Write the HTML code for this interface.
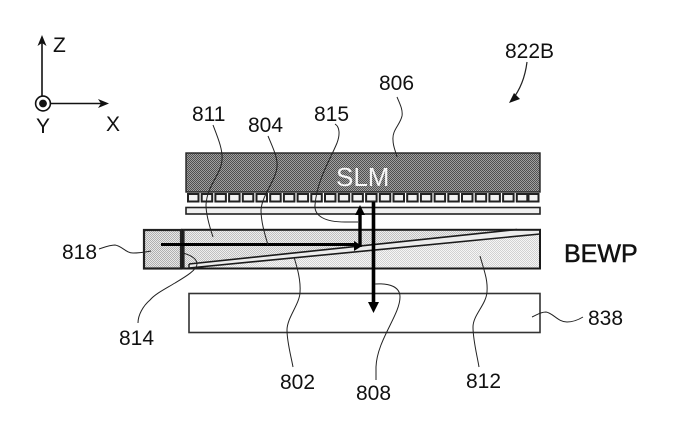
<!DOCTYPE html>
<html><head><meta charset="utf-8">
<style>
html,body{margin:0;padding:0;background:#fff;width:694px;height:441px;overflow:hidden}
svg{display:block}
text{font-family:"Liberation Sans",sans-serif;font-size:21px;fill:#111}
</style></head><body>
<svg width="694" height="441" viewBox="0 0 694 441" xmlns="http://www.w3.org/2000/svg">
<defs>
<pattern id="dark" width="2" height="2" patternUnits="userSpaceOnUse"><rect width="2" height="2" fill="#a0a0a0"/><rect width="1" height="1" fill="#505050"/><rect x="1" y="1" width="1" height="1" fill="#505050"/></pattern>
<pattern id="mid" width="2" height="2" patternUnits="userSpaceOnUse"><rect width="2" height="2" fill="#eee"/><rect width="1" height="1" fill="#c0c0c0"/><rect x="1" y="1" width="1" height="1" fill="#c0c0c0"/></pattern>
<pattern id="light" width="2" height="2" patternUnits="userSpaceOnUse"><rect width="2" height="2" fill="#f6f6f6"/><rect width="1" height="1" fill="#d2d2d2"/><rect x="1" y="1" width="1" height="1" fill="#d2d2d2"/></pattern>
<pattern id="box" width="2" height="2" patternUnits="userSpaceOnUse"><rect width="2" height="2" fill="#e8e8e8"/><rect width="1" height="1" fill="#b0b0b0"/><rect x="1" y="1" width="1" height="1" fill="#b0b0b0"/></pattern>
</defs>

<!-- axes -->
<g stroke="#111" fill="none">
<line x1="42" y1="38" x2="42" y2="96" stroke-width="1.6"/>
<line x1="51" y1="103.5" x2="104" y2="103.5" stroke-width="1.6"/>
<circle cx="43" cy="103.5" r="7.4" stroke-width="1.6" fill="#fff"/>
</g>
<circle cx="43" cy="103.5" r="3.9" fill="#111"/>
<polygon points="42,35 37.5,46 42,43 46.5,46" fill="#111"/>
<polygon points="109,103.5 98,99 101,103.5 98,108" fill="#111"/>
<text x="53" y="52">Z</text>
<text x="106" y="131">X</text>
<text x="36" y="133">Y</text>

<!-- SLM -->
<rect x="186" y="153" width="354" height="39" fill="url(#dark)" stroke="#222" stroke-width="1.4"/>
<text x="336" y="186" style="font-size:26px;fill:#f6f6f6">SLM</text>

<!-- pixels -->
<g fill="#f2f2f2" stroke="#222" stroke-width="2">
<rect x="188" y="194" width="10.5" height="7.5"/><rect x="201.7" y="194" width="10.5" height="7.5"/><rect x="215.4" y="194" width="10.5" height="7.5"/><rect x="229.1" y="194" width="10.5" height="7.5"/><rect x="242.8" y="194" width="10.5" height="7.5"/><rect x="256.5" y="194" width="10.5" height="7.5"/><rect x="270.2" y="194" width="10.5" height="7.5"/><rect x="283.9" y="194" width="10.5" height="7.5"/><rect x="297.6" y="194" width="10.5" height="7.5"/><rect x="311.3" y="194" width="10.5" height="7.5"/><rect x="325" y="194" width="10.5" height="7.5"/><rect x="338.7" y="194" width="10.5" height="7.5"/><rect x="352.4" y="194" width="10.5" height="7.5"/><rect x="366.1" y="194" width="10.5" height="7.5"/><rect x="379.8" y="194" width="10.5" height="7.5"/><rect x="393.5" y="194" width="10.5" height="7.5"/><rect x="407.2" y="194" width="10.5" height="7.5"/><rect x="420.9" y="194" width="10.5" height="7.5"/><rect x="434.6" y="194" width="10.5" height="7.5"/><rect x="448.3" y="194" width="10.5" height="7.5"/><rect x="462" y="194" width="10.5" height="7.5"/><rect x="475.7" y="194" width="10.5" height="7.5"/><rect x="489.4" y="194" width="10.5" height="7.5"/><rect x="503.1" y="194" width="10.5" height="7.5"/><rect x="516.8" y="194" width="10.5" height="7.5"/><rect x="528.5" y="194" width="10" height="7.5"/>
</g>
<rect x="186" y="207.5" width="354" height="6.5" fill="#f0f0f0" stroke="#222" stroke-width="1.6"/>

<!-- BEWP -->
<rect x="182" y="229" width="358" height="40" fill="url(#mid)"/>
<polygon points="189,268 540,234 540,269 189,269" fill="url(#light)"/>
<polygon points="189,264 517,229 540,229 540,234 189,268" fill="#ececec"/>
<rect x="144" y="230" width="37" height="38.5" fill="url(#box)" stroke="#222" stroke-width="2.2"/>
<rect x="182" y="229.8" width="358" height="38.7" fill="none" stroke="#1a1a1a" stroke-width="2"/>
<line x1="181" y1="229" x2="181" y2="269" stroke="#222" stroke-width="1.8"/>
<line x1="183.8" y1="229" x2="183.8" y2="269" stroke="#222" stroke-width="1.6"/>
<line x1="189" y1="264" x2="517" y2="229.5" stroke="#1a1a1a" stroke-width="1.6"/>
<line x1="189" y1="268" x2="540" y2="234" stroke="#1a1a1a" stroke-width="1.6"/>
<line x1="189" y1="264" x2="189" y2="268" stroke="#1a1a1a" stroke-width="1.4"/>

<!-- bottom -->
<rect x="189" y="293.5" width="351" height="39" fill="#fff" stroke="#333" stroke-width="1.6"/>

<!-- rays -->
<line x1="161" y1="244.5" x2="356" y2="244.5" stroke="#000" stroke-width="3"/>
<polygon points="362,246 354,241 354,251" fill="#000"/>
<line x1="360" y1="247" x2="360" y2="212" stroke="#000" stroke-width="3.4"/>
<polygon points="360,205 355,215 365,215" fill="#000"/>
<line x1="373.5" y1="202" x2="373.5" y2="305" stroke="#000" stroke-width="3.6"/>
<polygon points="373.5,313 368,302 379,302" fill="#000"/>

<!-- leaders -->
<g fill="none" stroke="#222" stroke-width="1">
<path d="M213,125 C218,138 223,150 222,160 C221,175 207,185 206,205 C206,215 210,228 213,237"/>
<path d="M268,136 C273,148 278,158 277,167 C276,180 262,195 261,210 C261,222 265,235 268,245"/>
<path d="M335,124 C340,127 340,135 337,143 C330,160 317,180 315,205 C314,216 325,222 345,222 L358,222"/>
<path d="M397,97 C400,104 403,110 402,116 C400,125 392,130 393,140 C393,147 396,152 397,157"/>
<path d="M294,257 C297,267 301,280 300,293 C299,305 287,318 287,330 C287,342 291,356 293,367"/>
<path d="M375,284 C390,283 400,287 400,297 C400,315 377,340 376,367 L376,380"/>
<path d="M480,256 C484,270 488,280 487,292 C486,305 473,315 473,327 C473,340 477,355 479,367"/>
<path d="M532,317 C537,315 540,312 546,312 C553,313 558,322 567,322 C573,322 578,320 583,317"/>
<path d="M99,249 C105,247 110,245 115,245 C122,246 126,253 133,253 C140,253 145,252 151,251"/>
<path d="M183,253 C190,255 197,258 197,264 C197,270 185,277 175,283 C165,289 155,294 150,300 C143,306 138,315 138,323"/>
</g>
<path d="M527,62 C525,78 520,90 512,100" fill="none" stroke="#222" stroke-width="1.2"/>
<polygon points="509,103 514,93 520,99" fill="#111"/>

<!-- labels -->
<text x="505" y="58">822B</text>
<text x="379" y="90">806</text>
<text x="192" y="121">811</text>
<text x="248" y="132">804</text>
<text x="314" y="121">815</text>
<text x="62" y="259">818</text>
<text x="119" y="345">814</text>
<text x="280" y="389">802</text>
<text x="356" y="400">808</text>
<text x="466" y="388">812</text>
<text x="588" y="325">838</text>
<text x="564" y="262" style="font-size:25px;stroke:#111;stroke-width:0.5">BEWP</text>
</svg>
</body></html>
